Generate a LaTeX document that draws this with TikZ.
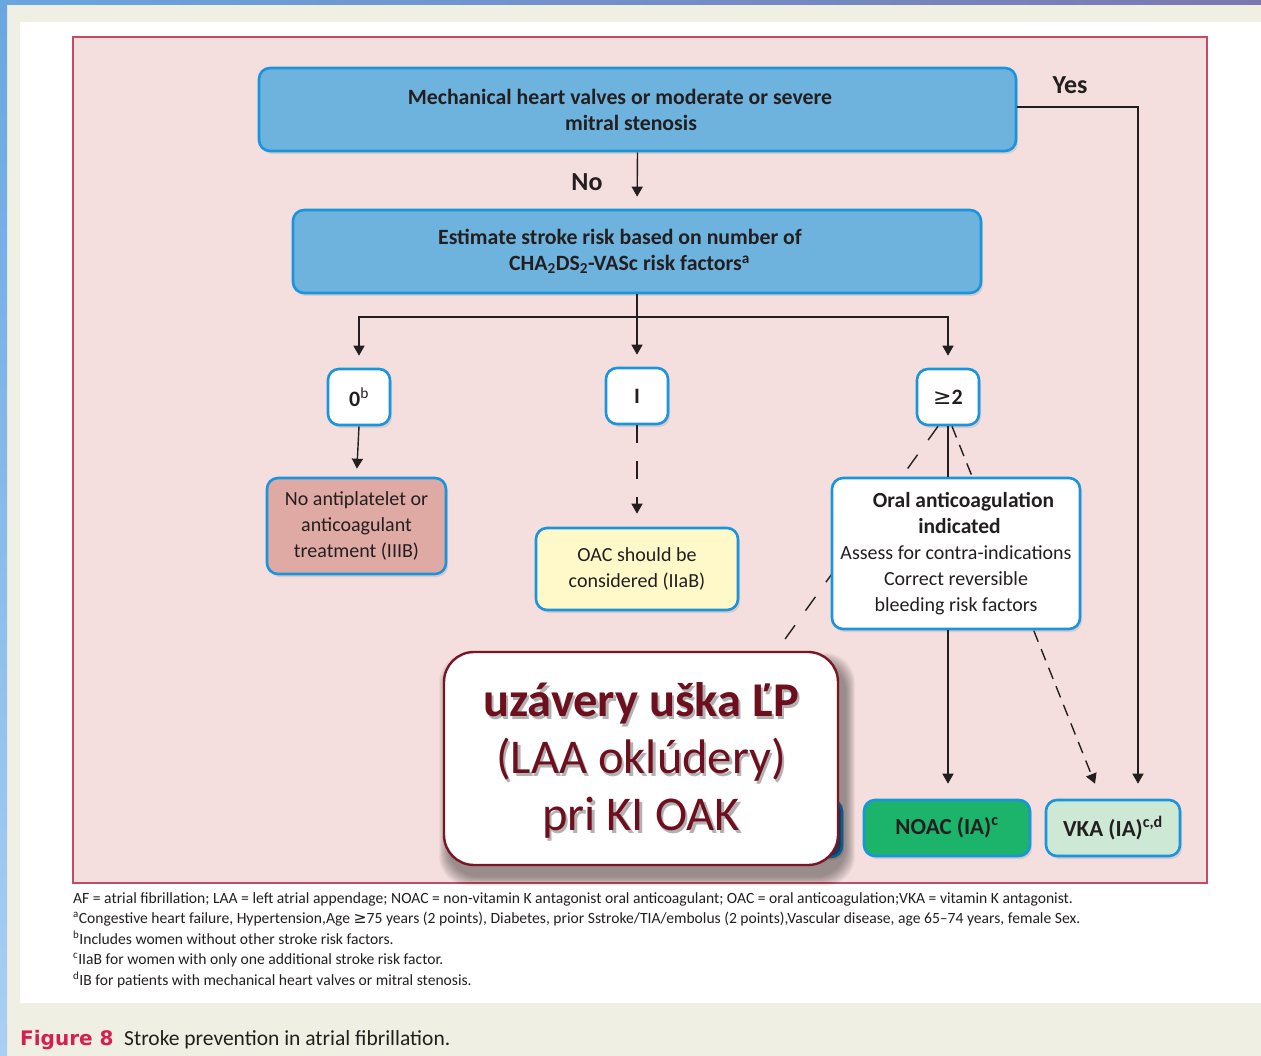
\documentclass[tikz,border=0pt]{standalone}
\usepackage{fontspec}
\setmainfont{Carlito}
\newfontfamily\capfont{DejaVu Sans}
\newfontfamily\symfont{DejaVu Sans}
\usetikzlibrary{arrows.meta,shadows}

\definecolor{ink}{HTML}{231F20}
\definecolor{beige}{HTML}{EFEFE3}
\definecolor{panelpink}{HTML}{F4DFDE}
\definecolor{panelline}{HTML}{C24C64}
\definecolor{boxblue}{HTML}{1A94DC}
\definecolor{topfill}{HTML}{6EB3DE}
\definecolor{salmon}{HTML}{DFA9A4}
\definecolor{paleyellow}{HTML}{FFF8C8}
\definecolor{noacgreen}{HTML}{1CB36B}
\definecolor{vkagreen}{HTML}{CDE8D5}
\definecolor{laared}{HTML}{6E0F1E}
\definecolor{laaline}{HTML}{7B1525}
\definecolor{capred}{HTML}{D5204F}
\definecolor{hiddenblue}{HTML}{2B5F94}

\newcommand{\atleast}{{\symfont ≥}}
% fixed space that keeps a centred line off the middle
\newcommand{\padr}[1]{\mbox{\hspace{#1}}}

\begin{document}
\begin{tikzpicture}[x=1pt,y=-1pt,
  conn/.style={draw=ink, line width=1.4pt},
  arr/.style={conn, -{Triangle[length=10pt,width=11pt]}, shorten >=12pt},
  dashA/.style={dash pattern=on 17pt off 18pt},
  dashB/.style={dash pattern=on 12pt off 8pt},
  dashC/.style={dash pattern=on 18pt off 18pt},
  box/.style={draw=boxblue, line width=2.6pt, rounded corners=11pt, inner sep=0pt,
    align=center, text=ink, font=\fontsize{20}{26}\selectfont,
    drop shadow={opacity=0.22, shadow xshift=2pt, shadow yshift=-3pt}},
  headbox/.style={box, fill=topfill, font=\bfseries\fontsize{21.8}{26}\selectfont, minimum height=83pt},
  endbox/.style={box, font=\bfseries\fontsize{23}{26}\selectfont, minimum height=56pt},
  lbl/.style={text=ink, font=\bfseries\fontsize{26}{30}\selectfont, inner sep=0pt},
  fn/.style={anchor=base west, text=ink, inner sep=0pt, font=\fontsize{15.6}{20}\selectfont}]

% page background and frame
\useasboundingbox (0,0) rectangle (1261,1056);
\fill[beige] (0,0) rectangle (1261,1056);
\shade[left color={rgb,255:red,106;green,166;blue,224}, middle color={rgb,255:red,62;green,111;blue,168}, right color={rgb,255:red,123;green,120;blue,176}] (0,0) rectangle (1261,5);
\shade[top color={rgb,255:red,106;green,166;blue,224}, bottom color={rgb,255:red,168;green,208;blue,244}] (0,0) rectangle (7,1056);
\fill[white] (20,22) rectangle (1261,1003);
\draw[draw=panelline, fill=panelpink, line width=1.5pt] (73,37) rectangle (1207,883);

% decision boxes
\node[headbox, minimum width=757pt] (top) at (637.5,109.5)
  {Mechanical heart valves or moderate or severe\padr{35pt}\\ mitral stenosis\padr{13pt}};
\node[headbox, minimum width=688pt] (risk) at (637,251.5)
  {Estimate stroke risk based on number of\padr{34pt}\\ CHA\textsubscript{2}DS\textsubscript{2}-VASc risk factors\textsuperscript{a}\padr{15pt}};

\node[box, fill=white, font=\bfseries\fontsize{22}{26}\selectfont, minimum width=62pt, minimum height=56pt] (zero) at (359,397) {0\textsuperscript{\mdseries b}};
\node[box, fill=white, font=\bfseries\fontsize{22}{26}\selectfont, minimum width=62pt, minimum height=56pt] (one) at (637,396) {I};
\node[box, fill=white, font=\fontsize{22}{26}\selectfont, minimum width=62pt, minimum height=56pt] (two) at (948,397) {\atleast\textbf{2}};

\node[box, fill=salmon, minimum width=179pt, minimum height=96pt] (noanti) at (356.5,526)
  {No antiplatelet or\\ anticoagulant\\ treatment (IIIB)};
\node[box, fill=paleyellow, minimum width=202pt, minimum height=82pt] (oacc) at (637,569)
  {OAC should be\\ considered (IIaB)};

% labels on the first split
\node[lbl] (nolbl) at (587,182) {No};
\node[lbl] (yeslbl) at (1070,85) {Yes};

% connectors from the top boxes
\draw[arr] (top.south) -- (risk.north);
\coordinate (split) at (637,317);
\draw[conn] (risk.south) -- (split);
\draw[arr] (split) -| (zero.north);
\draw[arr] (split) -- (one.north);
\draw[arr] (split) -| (two.north);
\draw[arr, shorten >=8pt] (zero.south) -- (noanti.north);
\draw[arr, dashC, shorten >=13pt] (one.south) -- (oacc.north);

% treatment boxes at the bottom
\node[endbox, fill=noacgreen, minimum width=166pt] (noac) at (947,828) {NOAC (IA)\textsuperscript{c}};
\node[endbox, fill=vkagreen, minimum width=134pt] (vka) at (1113,828) {VKA (IA)\textsuperscript{c,d}};
\node[box, fill=hiddenblue, minimum width=152pt, minimum height=57pt] (hidden) at (766,828.5) {};

% dashed branches from the >=2 box
\coordinate (laaend) at (770,660);
\draw[conn, dashA] ([xshift=-10pt]two.south) -- (laaend);
\draw[conn, dashB, -{Triangle[length=10pt,width=11pt]}] ([xshift=4pt]two.south) -- ([xshift=-18pt,yshift=15pt]vka.north);

% "Yes" branch
\coordinate (yesturn) at (1138,107);
\draw[arr, shorten >=15pt] (top.east |- yesturn) -- (yesturn) -- (yesturn |- vka.north);

% anticoagulation box
\node[box, fill=white, minimum width=248pt, minimum height=151pt] (oacind) at (956,553.5)
  {{\bfseries\fontsize{21.5}{26}\selectfont \padr{15pt}Oral anticoagulation}\\ {\bfseries\fontsize{21.5}{26}\selectfont \padr{7pt}indicated}\\ Assess for contra-indications\\ Correct reversible\\ bleeding risk factors};
\draw[conn] (two.south) -- (two.south |- oacind.north);
\draw[arr, shorten >=15pt] (two.south |- oacind.south) -- (two.south |- noac.north);

% overlay box with soft shadow
\foreach \k in {0,...,9}
  \fill[black, opacity=0.045, rounded corners=30pt] ({444+4-\k},{652+10-\k}) rectangle ({838+8+\k},{865+12+\k});
\node[draw=laaline, line width=2.4pt, fill=white, rounded corners=30pt, minimum width=394pt, minimum height=213pt, inner sep=0pt] (laa) at (641,758.5) {};
\node[text=black, opacity=0.3, align=center, font=\fontsize{48.5}{57}\selectfont] (laashade) at (643.5,763.5)
  {\textbf{uzávery uška ĽP}\\ (LAA oklúdery)\\ pri KI OAK};
\node[text=laared, align=center, font=\fontsize{48.5}{57}\selectfont] (laatext) at (641,760)
  {\textbf{uzávery uška ĽP}\\ (LAA oklúdery)\\ pri KI OAK};

% footnotes
\node[fn] (fn1) at (73,903) {AF = atrial fibrillation; LAA = left atrial appendage; NOAC = non-vitamin K antagonist oral anticoagulant; OAC = oral anticoagulation;VKA = vitamin K antagonist.};
\node[fn] (fn2) at (73,923) {\textsuperscript{a}Congestive heart failure, Hypertension,Age \atleast75 years (2 points), Diabetes, prior Sstroke/TIA/embolus (2 points),Vascular disease, age 65–74 years, female Sex.};
\node[fn] (fn3) at (73,944) {\textsuperscript{b}Includes women without other stroke risk factors.};
\node[fn] (fn4) at (73,964) {\textsuperscript{c}IIaB for women with only one additional stroke risk factor.};
\node[fn] (fn5) at (73,985) {\textsuperscript{d}IB for patients with mechanical heart valves or mitral stenosis.};

% caption
\node[anchor=base west, inner sep=0pt, text=capred, font=\capfont\bfseries\fontsize{20}{24}\selectfont] (capnum) at (20,1045) {Figure 8};
\node[anchor=base west, inner sep=0pt, text=ink, font=\fontsize{21.5}{24}\selectfont] (captext) at (124,1045) {Stroke prevention in atrial fibrillation.};
\end{tikzpicture}
\end{document}
